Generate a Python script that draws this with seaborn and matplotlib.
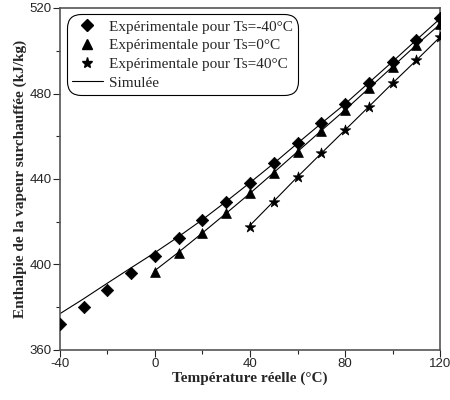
import matplotlib
matplotlib.use("Agg")
import matplotlib.pyplot as plt
import seaborn as sns
from matplotlib.lines import Line2D
from matplotlib.ticker import MultipleLocator

# Experimental points
t_m40 = [-40, -30, -20, -10, 0, 10, 20, 30, 40, 50, 60, 70, 80, 90, 100, 110, 120]
h_m40 = [372.3, 380.1, 387.9, 395.9, 404.0, 412.2, 420.8, 429.4, 438.3, 447.3,
         456.7, 466.0, 475.1, 485.0, 494.9, 505.0, 515.2]
t_0 = [0, 10, 20, 30, 40, 50, 60, 70, 80, 90, 100, 110, 120]
h_0 = [396.6, 405.5, 414.6, 424.2, 433.3, 443.0, 452.8, 462.6, 472.3, 482.4,
       492.5, 502.7, 512.5]
t_40 = [40, 50, 60, 70, 80, 90, 100, 110, 120]
h_40 = [417.7, 429.4, 441.1, 452.0, 462.9, 473.8, 485.0, 495.7, 506.6]

# Simulated curves
sim_m40 = [377.0, 384.0, 391.3, 398.5, 405.6, 413.1, 421.0, 429.5, 438.3, 447.3,
           456.7, 466.0, 475.1, 485.0, 494.9, 505.0, 515.0]
sim_0 = [397.2, 405.8, 414.8, 424.0, 433.3, 443.0, 452.8, 462.6, 472.3, 482.4,
         492.5, 502.7, 512.4]
sim_40 = [418.3, 429.6, 441.0, 452.0, 462.9, 473.8, 484.8, 495.5, 506.4]

labels = ["Expérimentale pour Ts=-40°C", "Expérimentale pour Ts=0°C",
          "Expérimentale pour Ts=40°C", "Simulée"]

sns.set_style("white")
plt.rcParams['font.family'] = ['Liberation Serif', 'DejaVu Serif']
plt.rcParams['axes.unicode_minus'] = False

fig = plt.figure(figsize=(4.5, 4), dpi=100)
ax = fig.add_axes([0.1333, 0.125, 0.8445, 0.855])

for t, h in [(t_m40, sim_m40), (t_0, sim_0), (t_40, sim_40)]:
    sns.lineplot(x=t, y=h, ax=ax, color='black', linewidth=0.8)

markers = ['D', '^', '*']
sizes = [40, 50, 64]
for (t, h), m, s in zip([(t_m40, h_m40), (t_0, h_0), (t_40, h_40)], markers, sizes):
    sns.scatterplot(x=t, y=h, ax=ax, marker=m, s=s, color='black',
                    edgecolor='black', linewidth=0.5, zorder=3)

ax.set_xlim(-40, 120)
ax.set_ylim(360, 520)
ax.xaxis.set_major_locator(MultipleLocator(40))
ax.xaxis.set_minor_locator(MultipleLocator(20))
ax.yaxis.set_major_locator(MultipleLocator(40))
ax.yaxis.set_minor_locator(MultipleLocator(20))
ax.tick_params(which='major', direction='out', length=5, width=0.8,
               bottom=True, left=True, top=False, right=False, pad=1)
ax.tick_params(which='minor', direction='out', length=3, width=0.8,
               bottom=True, left=True, top=False, right=False)
for lbl in ax.get_xticklabels() + ax.get_yticklabels():
    lbl.set_fontfamily('Liberation Sans')
    lbl.set_fontsize(9.5)

for sp in ax.spines.values():
    sp.set_color('#555555')
    sp.set_linewidth(1.2)

ax.set_xlabel("Température réelle (°C)", fontsize=11, fontweight='bold', labelpad=1)
ax.set_ylabel("Enthalpie de la vapeur surchauffée (kJ/kg)", fontsize=11,
              fontweight='bold', labelpad=2)

handles = [
    Line2D([], [], color='black', marker='D', linestyle='none', markersize=6),
    Line2D([], [], color='black', marker='^', linestyle='none', markersize=7),
    Line2D([], [], color='black', marker='*', linestyle='none', markersize=8),
    Line2D([], [], color='black', linewidth=0.8),
]
leg = ax.legend(handles, labels, loc='upper left', bbox_to_anchor=(0.01, 0.99),
                fontsize=11, frameon=True, fancybox=True, edgecolor='black',
                labelspacing=0.33, handlelength=2.0, handletextpad=0.4,
                borderpad=0.35, borderaxespad=0.2)
leg.get_frame().set_linewidth(0.8)
leg.get_frame().set_alpha(1)
leg.get_frame().set_boxstyle('round,pad=0,rounding_size=0.9')

plt.savefig("out.png", dpi=100)
plt.close()
